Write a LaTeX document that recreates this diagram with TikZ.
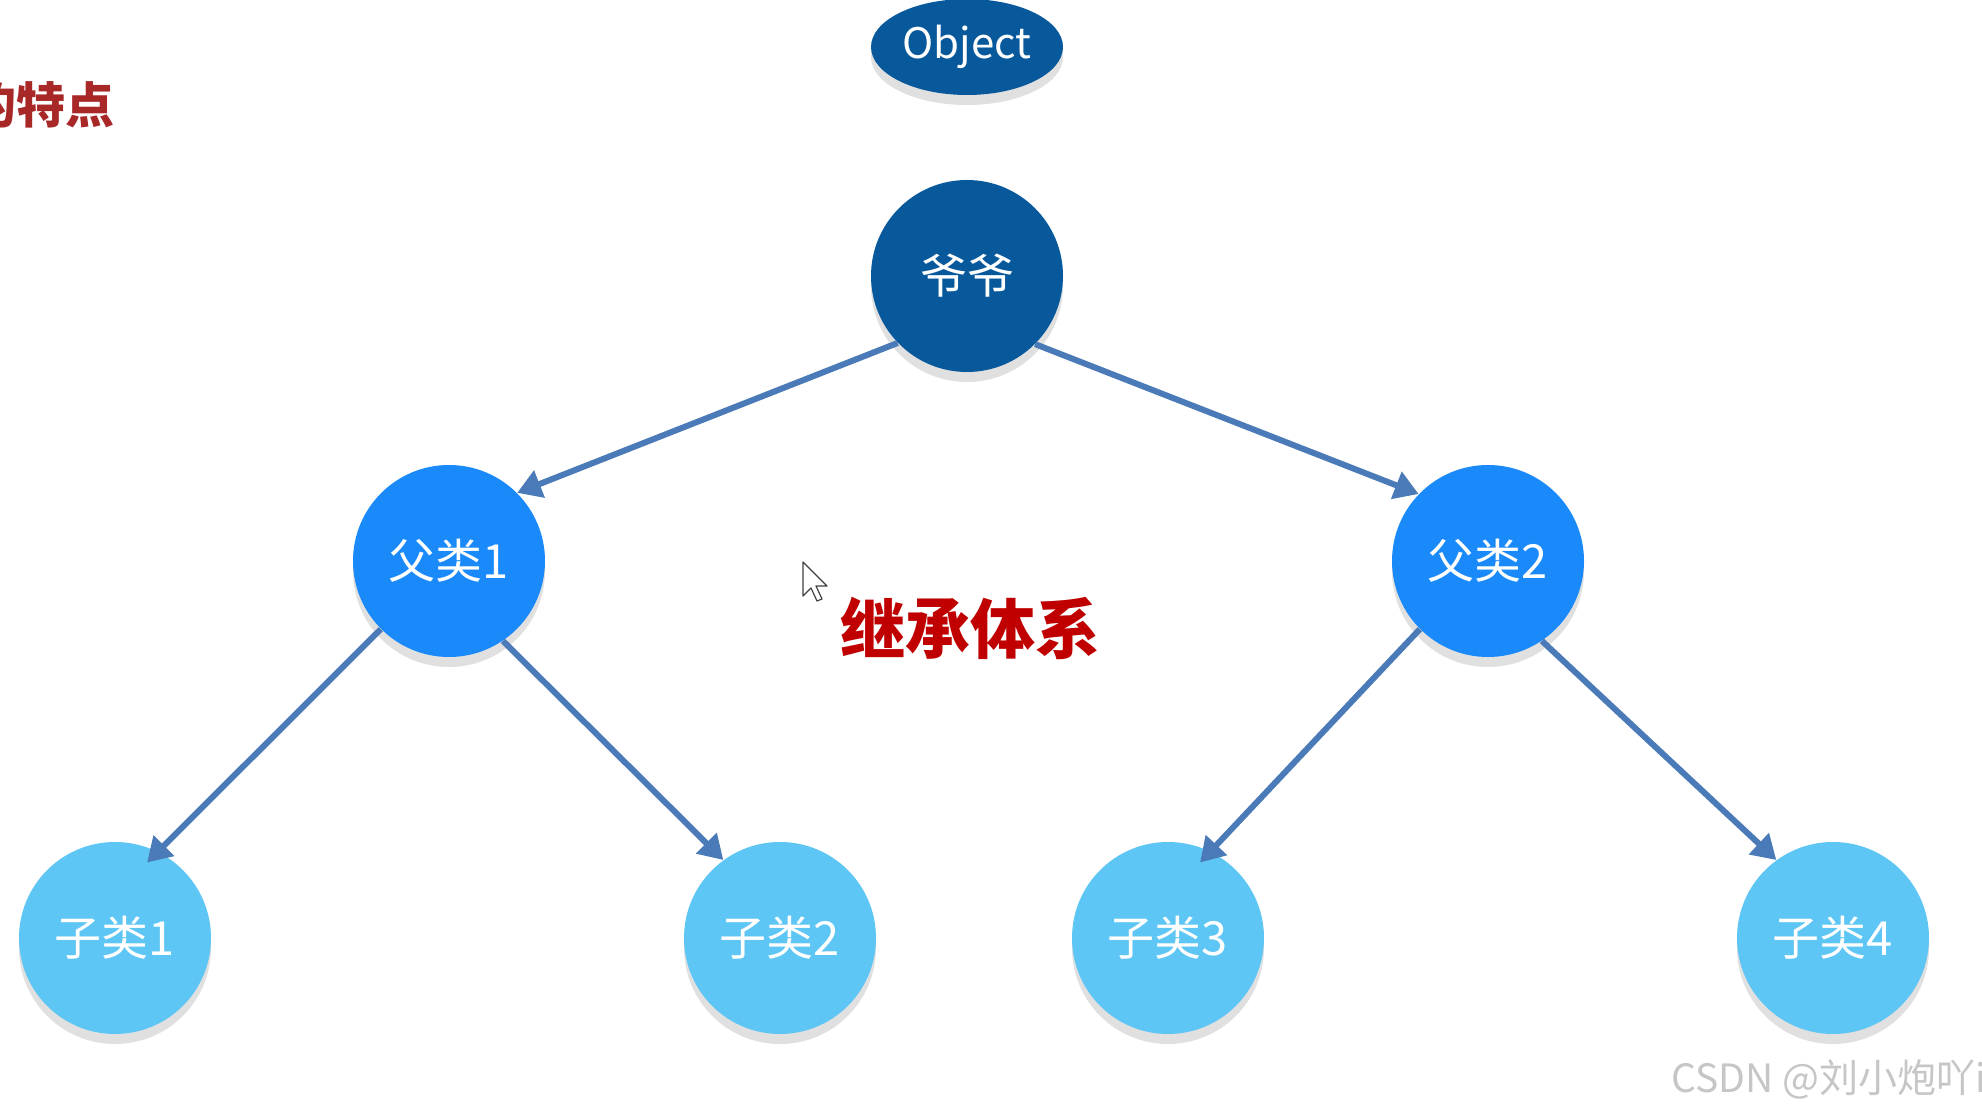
\documentclass[tikz,border=0pt]{standalone}
\usepackage{fontspec}
\setmainfont{Noto Sans CJK SC}
\usetikzlibrary{shapes.geometric,arrows.meta,shadows,calc}
\definecolor{darkblue}{HTML}{08589C}
\definecolor{midblue}{HTML}{1A8AFA}
\definecolor{lightblue}{HTML}{5EC6F4}
\definecolor{arrowblue}{HTML}{4A7AB8}
\definecolor{shadowgray}{HTML}{E0E0E0}
\definecolor{titlered}{HTML}{C00000}
\definecolor{headred}{HTML}{A82828}
\begin{document}
\begin{tikzpicture}[x=0.5pt,y=0.5pt,
  shad/.style={drop shadow={shadow xshift=0pt,shadow yshift=-5pt,fill=shadowgray,opacity=1}},
  circ/.style={circle,minimum size=96pt,inner sep=0pt,text=white,
     font=\fontsize{23.5}{28}\selectfont,shad},
  grand/.style={circ,fill=darkblue},
  parent/.style={circ,fill=midblue},
  child/.style={circ,fill=lightblue},
  link/.style={draw=arrowblue,line width=3pt,-{Triangle[length=12pt,width=14pt]}},
  cursorstyle/.style={fill=white,draw=black!75,line width=0.6pt,line join=round}]
\useasboundingbox (0,0) rectangle (1982,-1111);
\clip (0,0) rectangle (1982,-1111);
\fill[white] (0,0) rectangle (1982,-1111);

% heading fragment
\node[anchor=east,text=headred,font=\fontsize{24.5}{28}\bfseries\selectfont,inner sep=0pt] (head) at (115,-105) {的特点};

% nodes
\node[ellipse,fill=darkblue,minimum width=96pt,minimum height=48pt,inner sep=0pt,
      text=white,font=\fontsize{21}{25}\selectfont,shad] (obj) at (967,-47) {Object};
\node[grand] (ye) at (967,-276) {爷爷};
\node[parent] (f1) at (449,-561) {父类1};
\node[parent] (f2) at (1488,-561) {父类2};
\node[child] (z1) at (115,-938) {子类1};
\node[child] (z2) at (780,-938) {子类2};
\node[child] (z3) at (1168,-938) {子类3};
\node[child] (z4) at (1833,-938) {子类4};

% connectors
\draw[link] (ye.224) -- (f1.45);
\draw[link] (ye.315) -- (f2.136);
\draw[link] (f1.225) -- ($(z1)+(67:82)$);
\draw[link] (f1.-56.5) -- (z2.126);
\draw[link] (f2.225) -- ($(z3)+(67:82)$);
\draw[link] (f2.-56.5) -- (z4.126);

% title
\node[text=titlered,font=\fontsize{32.5}{36}\bfseries\selectfont,inner sep=0pt] (title) at (970,-628) {继承体系};

% mouse cursor
\draw[cursorstyle] (803,-562) -- ++(0,-34) -- ++(8,8) -- ++(6,-13) -- ++(5,2) -- ++(-6,13) -- ++(11,0) -- cycle;

% watermark
\node[anchor=west,text=gray!45,font=\fontsize{19.5}{23}\selectfont,inner sep=0pt] (wm) at (1671,-1079) {CSDN @刘小炮吖i};
\end{tikzpicture}
\end{document}
